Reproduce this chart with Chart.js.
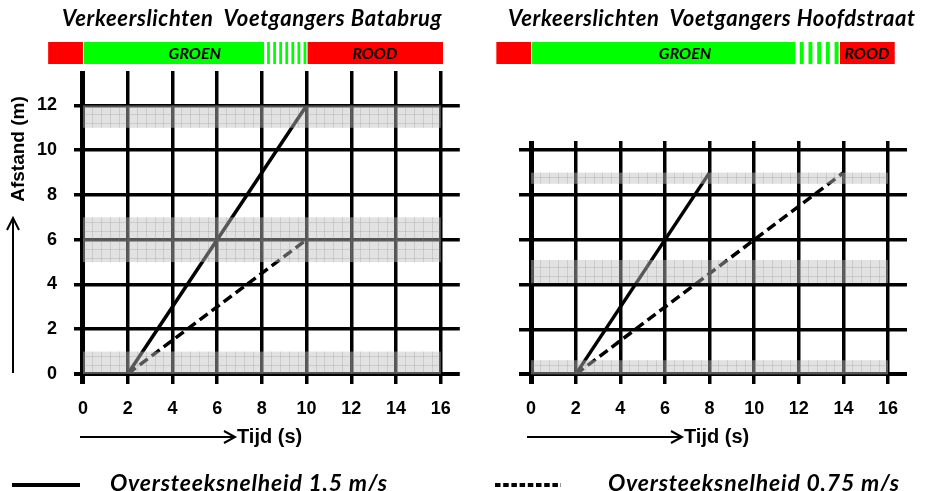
<!DOCTYPE html>
<html>
<head>
<meta charset="utf-8">
<script src="https://cdn.jsdelivr.net/npm/chart.js@4.4.1/dist/chart.umd.min.js"></script>
<style>
  body { margin: 0; background: #fff; }
  #wrap { position: relative; width: 929px; height: 491px; overflow: hidden; }
  canvas { position: absolute; top: 0; }
  .txt { position: absolute; white-space: pre; color: #000; }
  .title { font: italic bold 22px Lato, sans-serif; letter-spacing: 0.6px; top: 4px; }
  .axis { font: bold 20px "Liberation Sans", Arial, sans-serif; }
  .leg { font: italic bold 23px Lato, sans-serif; letter-spacing: 0.8px; top: 468px; }
</style>
</head>
<body>
<div id="wrap">
  <canvas id="batabrug" width="465" height="491" style="left:0"></canvas>
  <canvas id="hoofdstraat" width="464" height="491" style="left:465px"></canvas>

  <div class="txt title" style="left:62px">Verkeerslichten  Voetgangers Batabrug</div>
  <div class="txt title" style="left:508px">Verkeerslichten  Voetgangers Hoofdstraat</div>

  <div class="txt axis" style="left:-42px; top:138px; width:120px; text-align:center; font-size:19px; transform:rotate(-90deg)">Afstand (m)</div>
  <div class="txt axis" style="left:237px; top:425px">Tijd (s)</div>
  <div class="txt axis" style="left:684px; top:425px">Tijd (s)</div>

  <div class="txt leg" style="left:110px">Oversteeksnelheid 1,5 m/s</div>
  <div class="txt leg" style="left:608px">Oversteeksnelheid 0,75 m/s</div>

  <svg width="929" height="491" style="position:absolute;left:0;top:0" fill="none" stroke="#000">
    <!-- pijlen bij de assen -->
    <line x1="13" y1="373" x2="13" y2="219" stroke-width="2"/>
    <polyline points="7,230 13,218 19,230" stroke-width="2"/>
    <line x1="80" y1="437" x2="234" y2="437" stroke-width="2"/>
    <polyline points="224,431 235,437 224,443" stroke-width="2"/>
    <line x1="527" y1="437" x2="681" y2="437" stroke-width="2"/>
    <polyline points="671,431 682,437 671,443" stroke-width="2"/>
    <!-- legenda lijntjes -->
    <line x1="12" y1="485" x2="80" y2="485" stroke-width="4"/>
    <line x1="495" y1="485" x2="561" y2="485" stroke-width="4" stroke-dasharray="5.5,2.7"/>
  </svg>
</div>

<script>
// tick values, shared by both charts
const tijdTicks = [0, 2, 4, 6, 8, 10, 12, 14, 16];
const batabrugAfstandTicks = [0, 2, 4, 6, 8, 10, 12];
const hoofdstraatAfstandTicks = [0, 2, 4, 6, 8, 10];

// Batabrug: lines (tijd in s, afstand in m)
const batabrugSnelTijd = [2, 10];
const batabrugSnelAfstand = [0, 12];
const batabrugLangzaamTijd = [2, 10];
const batabrugLangzaamAfstand = [0, 6];
// grey bands (afstand van / tot)
const batabrugBandVan = [0, 5, 11];
const batabrugBandTot = [1, 7, 12];
// traffic light phases (tijd)
const batabrugFaseStart = [-1.6, 0, 8.1, 10];
const batabrugFaseEinde = [0, 8.1, 10, 16.1];
const batabrugFaseSoort = ['rood', 'groen', 'knipper', 'rood'];
const batabrugKnipperAantal = 7;

// Hoofdstraat
const hoofdstraatSnelTijd = [2, 8];
const hoofdstraatSnelAfstand = [0, 9];
const hoofdstraatLangzaamTijd = [2, 14];
const hoofdstraatLangzaamAfstand = [0, 9];
const hoofdstraatBandVan = [0, 4.07, 8.5];
const hoofdstraatBandTot = [0.63, 5.1, 9];
const hoofdstraatFaseStart = [-1.6, 0, 11.85, 13.8];
const hoofdstraatFaseEinde = [0, 11.85, 13.8, 16.3];
const hoofdstraatFaseSoort = ['rood', 'groen', 'knipper', 'rood'];
const hoofdstraatKnipperAantal = 5;

const ROOD = '#ff0000';
const GROEN = '#00ff00';

function punten(xs, ys) {
  return xs.map((x, i) => ({ x: x, y: ys[i] }));
}

// grey crossing zones, drawn over the grid and the lines (that's why they look grey there)
const bandPlugin = {
  id: 'banden',
  afterDatasetsDraw(chart, args, opts) {
    const ctx = chart.ctx;
    const xs = chart.scales.x, ys = chart.scales.y;
    const x0 = xs.getPixelForValue(0), x1 = xs.getPixelForValue(16);
    ctx.save();
    opts.van.forEach((van, i) => {
      const tot = opts.tot[i];
      const yTop = ys.getPixelForValue(tot), yBot = ys.getPixelForValue(van);
      ctx.fillStyle = 'rgba(190,190,190,0.45)';
      ctx.fillRect(x0, yTop, x1 - x0, yBot - yTop);
      // fine grid inside the band
      ctx.strokeStyle = 'rgba(120,120,120,0.22)';
      ctx.lineWidth = 1;
      ctx.beginPath();
      for (let t = 0.4; t < 16; t += 0.4) {
        const px = Math.round(xs.getPixelForValue(t)) + 0.5;
        ctx.moveTo(px, yTop); ctx.lineTo(px, yBot);
      }
      for (let a = Math.ceil(van / 0.4) * 0.4; a < tot; a += 0.4) {
        if (a <= van + 0.05) continue;
        const py = Math.round(ys.getPixelForValue(a)) + 0.5;
        ctx.moveTo(x0, py); ctx.lineTo(x1, py);
      }
      ctx.stroke();
    });
    ctx.restore();
  }
};

// red / green / flashing bar above each chart
const fasePlugin = {
  id: 'fasen',
  afterDraw(chart, args, opts) {
    const ctx = chart.ctx;
    const xs = chart.scales.x;
    const top = 42, h = 22;
    ctx.save();
    opts.start.forEach((s, i) => {
      const e = opts.einde[i];
      const px0 = xs.getPixelForValue(s), px1 = xs.getPixelForValue(e);
      const soort = opts.soort[i];
      if (soort === 'knipper') {
        const n = opts.knipper;
        const c = (px1 - px0) / n;
        ctx.fillStyle = GROEN;
        for (let k = 0; k < n; k++) {
          const a = px0 + c * k + c * 0.5;
          ctx.fillRect(a, top, c * 0.45, h);
        }
      } else {
        ctx.fillStyle = soort === 'rood' ? ROOD : GROEN;
        ctx.fillRect(px0 + 1, top, px1 - px0 - 1, h);
      }
    });
    // labels: GROEN over green + flashing, ROOD over the last red part
    ctx.fillStyle = '#000';
    ctx.font = 'italic bold 16px Lato, sans-serif';
    ctx.textAlign = 'center';
    ctx.textBaseline = 'middle';
    const n = opts.start.length;
    const gStart = xs.getPixelForValue(opts.start[1]);
    const gEnd = xs.getPixelForValue(opts.einde[2]);
    ctx.fillText('GROEN', (gStart + gEnd) / 2, top + h / 2 + 1);
    const rStart = xs.getPixelForValue(opts.start[n - 1]);
    const rEnd = xs.getPixelForValue(opts.einde[n - 1]);
    ctx.fillText('ROOD', (rStart + rEnd) / 2, top + h / 2 + 1);
    ctx.restore();
  }
};

function maakGrafiek(id, d) {
  return new Chart(document.getElementById(id), {
    type: 'scatter',
    data: {
      datasets: [
        {
          label: 'Oversteeksnelheid 1,5 m/s',
          data: punten(d.snelTijd, d.snelAfstand),
          showLine: true, borderColor: '#000', borderWidth: 3.5,
          pointRadius: 0
        },
        {
          label: 'Oversteeksnelheid 0,75 m/s',
          data: punten(d.langzaamTijd, d.langzaamAfstand),
          showLine: true, borderColor: '#000', borderWidth: 3.5,
          borderDash: [10, 5], pointRadius: 0
        }
      ]
    },
    options: {
      responsive: false,
      animation: false,
      layout: { padding: { top: d.padTop, right: d.padRight, left: 0, bottom: 0 } },
      plugins: {
        legend: { display: false },
        tooltip: { enabled: false },
        banden: { van: d.bandVan, tot: d.bandTot },
        fasen: { start: d.faseStart, einde: d.faseEinde, soort: d.faseSoort, knipper: d.knipper }
      },
      scales: {
        x: {
          type: 'linear', min: d.xMin, max: 16.85,
          afterBuildTicks: s => { s.ticks = tijdTicks.map(v => ({ value: v })); },
          afterFit: s => { s.height = 107; },
          border: { display: false },
          grid: {
            color: '#000', drawTicks: false,
            lineWidth: c => (c.tick && c.tick.value === 0 ? 5 : 3.5)
          },
          ticks: { color: '#000', padding: 14, font: { family: 'Liberation Sans', size: 18, weight: 'bold' } }
        },
        y: {
          type: 'linear', min: d.yMin, max: d.yMax,
          afterBuildTicks: s => { s.ticks = d.yTicks.map(v => ({ value: v })); },
          afterFit: s => { s.width = d.yWidth; },
          border: { display: false },
          grid: {
            color: '#000', drawTicks: false,
            lineWidth: c => (c.tick && c.tick.value === 0 ? 4 : 3.5)
          },
          ticks: {
            display: d.yLabels, color: '#000', padding: 17,
            font: { family: 'Liberation Sans', size: 18, weight: 'bold' }
          }
        }
      }
    },
    plugins: [bandPlugin, fasePlugin]
  });
}

maakGrafiek('batabrug', {
  snelTijd: batabrugSnelTijd, snelAfstand: batabrugSnelAfstand,
  langzaamTijd: batabrugLangzaamTijd, langzaamAfstand: batabrugLangzaamAfstand,
  bandVan: batabrugBandVan, bandTot: batabrugBandTot,
  faseStart: batabrugFaseStart, faseEinde: batabrugFaseEinde, faseSoort: batabrugFaseSoort,
  knipper: batabrugKnipperAantal,
  yTicks: batabrugAfstandTicks, yMin: -0.45, yMax: 13.54, yLabels: true,
  xMin: -0.4, yWidth: 74, padTop: 71, padRight: 4
});

maakGrafiek('hoofdstraat', {
  snelTijd: hoofdstraatSnelTijd, snelAfstand: hoofdstraatSnelAfstand,
  langzaamTijd: hoofdstraatLangzaamTijd, langzaamAfstand: hoofdstraatLangzaamAfstand,
  bandVan: hoofdstraatBandVan, bandTot: hoofdstraatBandTot,
  faseStart: hoofdstraatFaseStart, faseEinde: hoofdstraatFaseEinde, faseSoort: hoofdstraatFaseSoort,
  knipper: hoofdstraatKnipperAantal,
  yTicks: hoofdstraatAfstandTicks, yMin: -0.43, yMax: 10.41, yLabels: false,
  xMin: -0.54, yWidth: 54, padTop: 141, padRight: 22
});
</script>
</body>
</html>
